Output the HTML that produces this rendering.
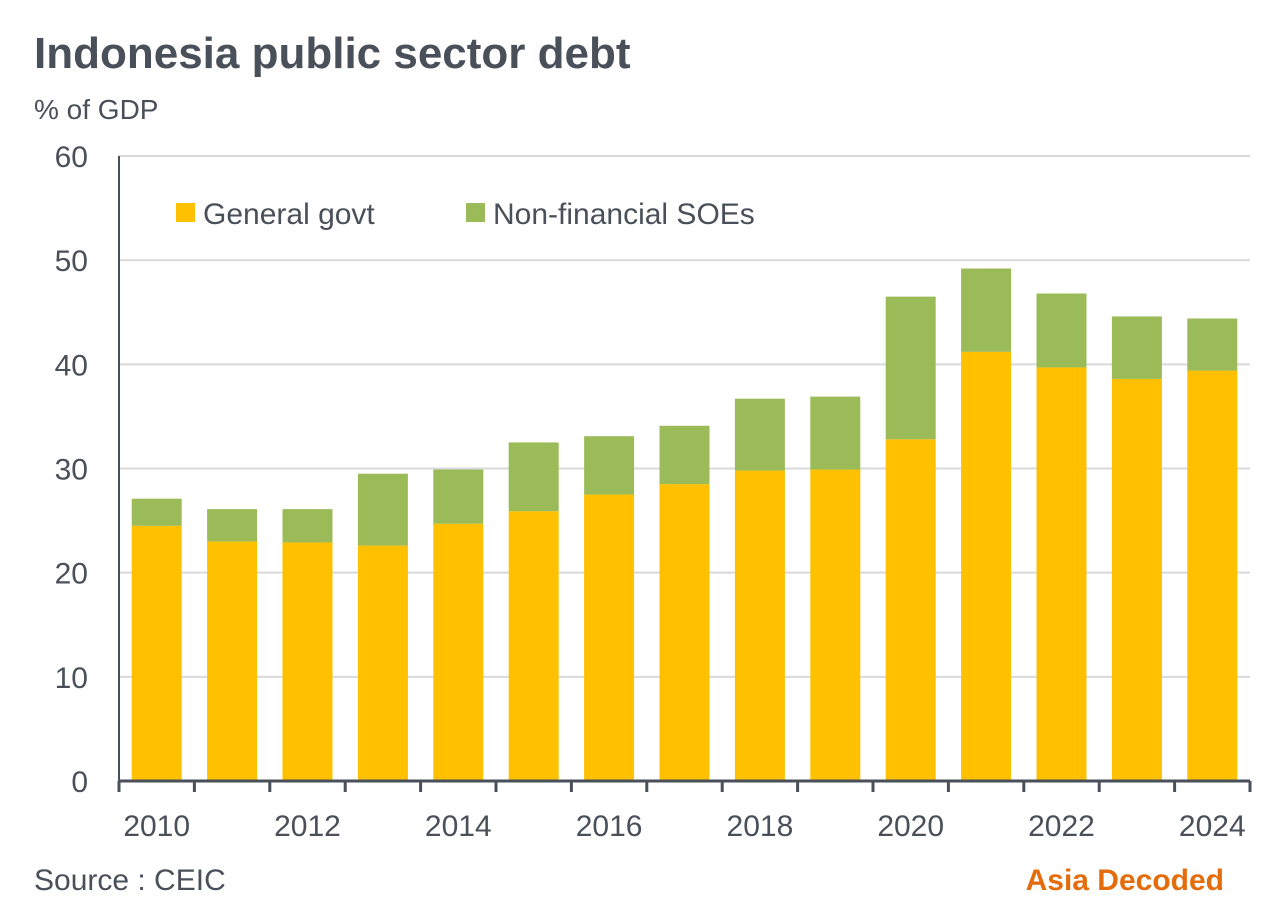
<!DOCTYPE html>
<html><head><meta charset="utf-8"><style>
body{margin:0;background:#fff;width:1285px;height:915px;overflow:hidden;font-family:"Liberation Sans",sans-serif;}
</style></head><body>
<svg width="1285" height="915" xmlns="http://www.w3.org/2000/svg" font-family="Liberation Sans, sans-serif">
<text x="34" y="68" font-size="44" font-weight="bold" fill="#4a5059">Indonesia public sector debt</text>
<text x="34" y="119" font-size="28" fill="#4a5059">% of GDP</text>
<g id="grid"></g><g id="bars"></g><g id="axes"></g>
<g>
<rect x="176" y="203" width="19" height="19" fill="#ffc000"/>
<text x="203" y="224" font-size="30" fill="#4a5059">General govt</text>
<rect x="466" y="203" width="19" height="19" fill="#9bbb59"/>
<text x="493" y="224" font-size="30" fill="#4a5059">Non-financial SOEs</text>
</g>
<text x="34" y="890" font-size="30" fill="#4a5059">Source : CEIC</text>
<text x="1224" y="890" font-size="30" font-weight="bold" fill="#e46c0a" text-anchor="end">Asia Decoded</text>
</svg>
<script>
const years=[2010,2011,2012,2013,2014,2015,2016,2017,2018,2019,2020,2021,2022,2023,2024];
const govt=[24.5,23.0,22.9,22.6,24.7,25.9,27.5,28.5,29.8,29.9,32.8,41.2,39.7,38.6,39.4];
const total=[27.1,26.1,26.1,29.5,29.9,32.5,33.1,34.1,36.7,36.9,46.5,49.2,46.8,44.6,44.4];
const yTicks=[0,10,20,30,40,50,60];
const NS="http://www.w3.org/2000/svg";
const X0=119,X1=1250,Y0=781,Y1=156,YMAX=60;
const step=(X1-X0)/years.length;
const y=v=>Y0-(v/YMAX)*(Y0-Y1);
const xc=i=>X0+step*(i+0.5);
function mk(t,a,p){const e=document.createElementNS(NS,t);for(const k in a)e.setAttribute(k,a[k]);p.appendChild(e);return e;}
const grid=document.getElementById('grid'),bars=document.getElementById('bars'),axes=document.getElementById('axes');
yTicks.forEach(v=>{
  if(v>0){const l=mk('line',{x1:X0,x2:X1,y1:y(v),y2:y(v),stroke:'#d9d9d9','stroke-width':2},grid);
  
  }
  const t=mk('text',{x:88,y:y(v)+11,'font-size':30,fill:'#4a5059','text-anchor':'end'},axes);
  t.textContent=v;
  
  
});
const bw=50;
years.forEach((yr,i)=>{
  const g=mk('rect',{x:xc(i)-bw/2,y:y(govt[i]),width:bw,height:Y0-y(govt[i]),fill:'#ffc000'},bars);
  
  
  const s=mk('rect',{x:xc(i)-bw/2,y:y(total[i]),width:bw,height:y(govt[i])-y(total[i]),fill:'#9bbb59'},bars);
  
  
  if(i%2===0){const t=mk('text',{x:xc(i),y:836,'font-size':30,fill:'#4a5059','text-anchor':'middle'},axes);
  t.textContent=yr;
  
  }
});
for(let i=0;i<=years.length;i++){
  const tk=mk('line',{x1:X0+step*i,x2:X0+step*i,y1:Y0,y2:Y0+11,stroke:'#4a5059','stroke-width':3},axes);
  
  
}
const xa=mk('line',{x1:X0,x2:X1,y1:Y0,y2:Y0,stroke:'#4a5059','stroke-width':3},axes);


const ya=mk('line',{x1:X0,x2:X0,y1:Y1,y2:Y0,stroke:'#4a5059','stroke-width':2},axes);


</script>
</body></html>
